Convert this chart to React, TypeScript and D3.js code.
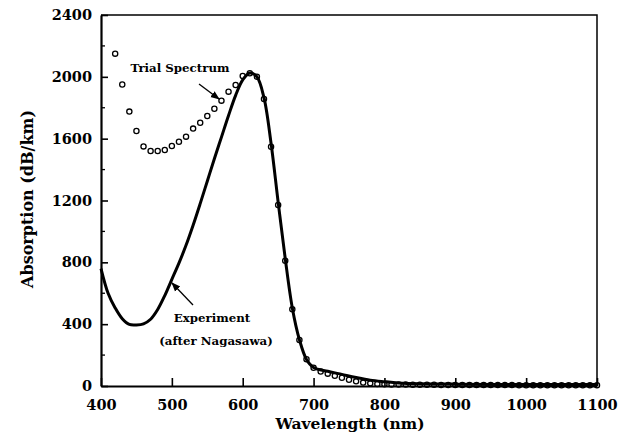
import * as d3 from "d3";
import { useEffect, useRef } from "react";

// experiment curve (after Nagasawa)
const expWavelength = [
  400, 410, 420, 430, 440, 450, 460, 470, 480, 490, 500, 510, 520, 530, 540,
  550, 560, 570, 580, 590, 600, 610, 620, 630, 640, 650, 660, 670, 680, 690,
  700, 720, 740, 760, 780, 800, 820, 850, 900, 1000, 1100,
];
const expValue = [
  760, 600, 505, 435, 398, 395, 402, 432, 495, 585, 690, 795, 910, 1040, 1180,
  1325, 1470, 1610, 1750, 1880, 1980, 2025, 2000, 1865, 1570, 1190, 825, 505,
  300, 172, 120, 95, 75, 55, 38, 28, 20, 15, 12, 10, 10,
];

// trial spectrum points
const trialWavelength = [
  420, 430, 440, 450, 460, 470, 480, 490, 500, 510, 520, 530, 540, 550, 560,
  570, 580, 590, 600, 610, 620, 630, 640, 650, 660, 670, 680, 690, 700, 710,
  720, 730, 740, 750, 760, 770, 780, 790, 800, 810, 820, 830, 840, 850, 860,
  870, 880, 890, 900, 910, 920, 930, 940, 950, 960, 970, 980, 990, 1000, 1010,
  1020, 1030, 1040, 1050, 1060, 1070, 1080, 1090, 1100,
];
const trialValue = [
  2150, 1950, 1775, 1650, 1550, 1520, 1520, 1527, 1553, 1580, 1613, 1665, 1703,
  1747, 1794, 1846, 1904, 1947, 2005, 2023, 2001, 1857, 1548, 1171, 811, 496,
  298, 173, 118, 93, 80, 66, 53, 40, 30, 22, 17, 13, 11, 10, 9, 9, 8, 8, 8, 8,
  7, 7, 7, 7, 7, 6, 6, 6, 6, 6, 6, 5, 5, 5, 5, 5, 5, 5, 5, 5, 5, 5, 5,
];

const xTicks = [400, 500, 600, 700, 800, 900, 1000, 1100];
const yTicks = [0, 400, 800, 1200, 1600, 2000, 2400];
const yMinorTicks = [200, 600, 1000, 1400, 1800, 2200];

const width = 631;
const height = 436;
const margin = { top: 15, right: 34, bottom: 50, left: 101 };
const font = "'DejaVu Serif', serif";

export default function App() {
  const ref = useRef(null);

  useEffect(() => {
    const svg = d3.select(ref.current);
    svg.selectAll("*").remove();

    const x = d3
      .scaleLinear()
      .domain([400, 1100])
      .range([margin.left, width - margin.right]);
    const y = d3
      .scaleLinear()
      .domain([0, 2400])
      .range([height - margin.bottom, margin.top]);

    const x0 = margin.left;
    const x1 = width - margin.right;
    const y0 = height - margin.bottom;
    const y1 = margin.top;

    // frame
    svg
      .append("path")
      .attr("d", `M${x0},${y1}H${x1}V${y0}`)
      .attr("fill", "none")
      .attr("stroke", "#000")
      .attr("stroke-width", 1.5);

    const xAxis = svg
      .append("g")
      .attr("transform", `translate(0,${y0})`)
      .call(
        d3
          .axisBottom(x)
          .tickValues(xTicks)
          .tickFormat(d3.format("d"))
          .tickSize(-8)
          .tickPadding(14)
          .tickSizeOuter(0)
      );
    xAxis.select(".domain").attr("stroke-width", 2.2);
    xAxis.selectAll(".tick line").attr("stroke-width", 1.6);
    xAxis
      .selectAll(".tick text")
      .attr("font-family", font)
      .attr("font-weight", "bold")
      .attr("font-size", 14.5)
      .attr("fill", "#000");

    const yAxis = svg
      .append("g")
      .attr("transform", `translate(${x0},0)`)
      .call(
        d3
          .axisLeft(y)
          .tickValues(yTicks)
          .tickFormat(d3.format("d"))
          .tickSize(-7)
          .tickPadding(9)
          .tickSizeOuter(0)
      );
    yAxis.select(".domain").attr("stroke-width", 2.2);
    yAxis.selectAll(".tick line").attr("stroke-width", 1.6);
    yAxis
      .selectAll(".tick text")
      .attr("font-family", font)
      .attr("font-weight", "bold")
      .attr("font-size", 14.5)
      .attr("fill", "#000");

    svg
      .append("g")
      .selectAll("line")
      .data(yMinorTicks)
      .join("line")
      .attr("x1", x0)
      .attr("x2", x0 + 4)
      .attr("y1", (d) => y(d))
      .attr("y2", (d) => y(d))
      .attr("stroke", "#000")
      .attr("stroke-width", 1.3);

    // experiment curve
    const line = d3
      .line()
      .x((d) => x(d[0]))
      .y((d) => y(d[1]))
      .curve(d3.curveCatmullRom.alpha(0.5));
    svg
      .append("path")
      .datum(expWavelength.map((w, i) => [w, expValue[i]]))
      .attr("fill", "none")
      .attr("stroke", "#000")
      .attr("stroke-width", 3)
      .attr("stroke-linejoin", "round")
      .attr("d", line);

    // trial spectrum
    svg
      .append("g")
      .selectAll("circle")
      .data(trialWavelength.map((w, i) => [w, trialValue[i]]))
      .join("circle")
      .attr("cx", (d) => x(d[0]))
      .attr("cy", (d) => y(d[1]))
      .attr("r", 2.6)
      .attr("fill", "none")
      .attr("stroke", "#000")
      .attr("stroke-width", 1.3);

    // annotations
    const defs = svg.append("defs");
    defs
      .append("marker")
      .attr("id", "arr")
      .attr("viewBox", "0 0 10 10")
      .attr("refX", 9)
      .attr("refY", 5)
      .attr("markerWidth", 7)
      .attr("markerHeight", 7)
      .attr("orient", "auto")
      .append("path")
      .attr("d", "M0,1L10,5L0,9Z")
      .attr("fill", "#000");

    const label = (t, cx, cy) =>
      svg
        .append("text")
        .attr("x", cx)
        .attr("y", cy)
        .attr("text-anchor", "middle")
        .attr("font-family", font)
        .attr("font-weight", "bold")
        .attr("font-size", 11.8)
        .text(t);

    label("Trial Spectrum", 180, 72);
    svg
      .append("line")
      .attr("x1", 199)
      .attr("y1", 84)
      .attr("x2", 219)
      .attr("y2", 99)
      .attr("stroke", "#000")
      .attr("stroke-width", 1.3)
      .attr("marker-end", "url(#arr)");

    label("Experiment", 212, 322);
    label("(after Nagasawa)", 216, 345);
    svg
      .append("line")
      .attr("x1", 193)
      .attr("y1", 305)
      .attr("x2", 172)
      .attr("y2", 283)
      .attr("stroke", "#000")
      .attr("stroke-width", 1.3)
      .attr("marker-end", "url(#arr)");

    // axis titles
    svg
      .append("text")
      .attr("x", 350)
      .attr("y", 429)
      .attr("text-anchor", "middle")
      .attr("font-family", font)
      .attr("font-weight", "bold")
      .attr("font-size", 15.5)
      .text("Wavelength (nm)");
    svg
      .append("text")
      .attr("transform", `translate(33,199) rotate(-90)`)
      .attr("text-anchor", "middle")
      .attr("font-family", font)
      .attr("font-weight", "bold")
      .attr("font-size", 16)
      .text("Absorption (dB/km)");
  }, []);

  return (
    <svg
      ref={ref}
      width={width}
      height={height}
      style={{ position: "absolute", left: 0, top: 0, background: "#fff" }}
    ></svg>
  );
}
